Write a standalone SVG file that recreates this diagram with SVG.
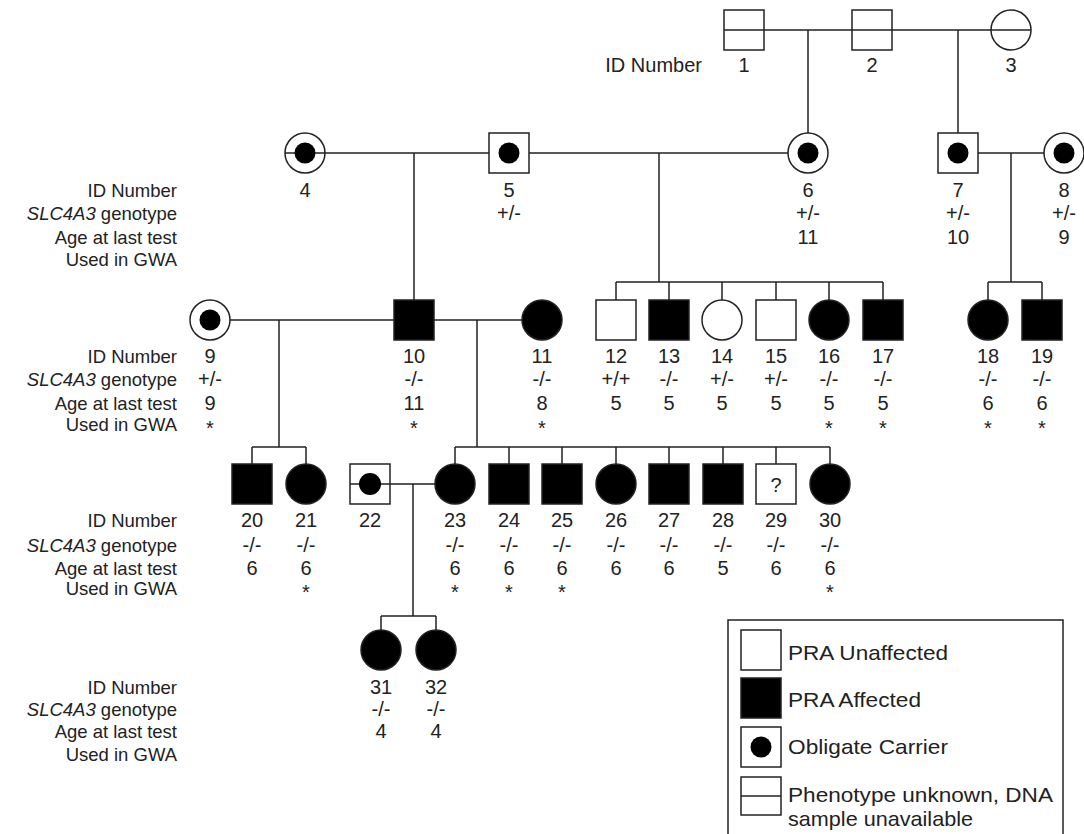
<svg xmlns="http://www.w3.org/2000/svg" width="1084" height="834" viewBox="0 0 1084 834">
<style>
.ln{stroke:#222;stroke-width:1.5;fill:none}
.o{stroke:#222;stroke-width:1.5;fill:#fff}
.on{stroke:#222;stroke-width:1.5;fill:none}
.f{stroke:#222;stroke-width:1.5;fill:#000}
.d{fill:#000}
text{font-family:"Liberation Sans",Arial,sans-serif;font-size:20px;fill:#222}
.n{text-anchor:middle}
.lab{text-anchor:end;font-size:18.5px}
.lg{font-size:21px}
</style>
<rect width="1084" height="834" fill="#fff"/>
<g id="connectors">
<path class="ln" d="M724 30H1031M808 30V133M958 30V133"/>
<path class="ln" d="M285 153H489M414 153V300M529 153H788M659 153V282M978 153H1044M1011 153V282"/>
<path class="ln" d="M616 282H883M616 282V300M669 282V300M722 282V300M776 282V300M829 282V300M883 282V300"/>
<path class="ln" d="M988 282H1042M988 282V300M1042 282V300"/>
<path class="ln" d="M230 320H394M279 320V447M434 320H522M477 320V447"/>
<path class="ln" d="M252 447H306M252 447V464M306 447V464"/>
<path class="ln" d="M455 447H830M455 447V464M509 447V464M562 447V464M616 447V464M669 447V464M723 447V464M776 447V464M830 447V464"/>
<path class="ln" d="M350 484H435M413 484V616M381 616H436M381 616V630M436 616V630"/>
</g>
<g id="rowlabels">
<text x="702" y="72" text-anchor="end">ID Number</text>
<text class="lab" x="177" y="197">ID Number</text>
<text class="lab" x="177" y="220"><tspan font-style="italic">SLC4A3</tspan> genotype</text>
<text class="lab" x="177" y="244">Age at last test</text>
<text class="lab" x="177" y="266">Used in GWA</text>
<text class="lab" x="177" y="363">ID Number</text>
<text class="lab" x="177" y="386"><tspan font-style="italic">SLC4A3</tspan> genotype</text>
<text class="lab" x="177" y="410">Age at last test</text>
<text class="lab" x="177" y="431">Used in GWA</text>
<text class="lab" x="177" y="527">ID Number</text>
<text class="lab" x="177" y="552"><tspan font-style="italic">SLC4A3</tspan> genotype</text>
<text class="lab" x="177" y="575">Age at last test</text>
<text class="lab" x="177" y="595">Used in GWA</text>
<text class="lab" x="177" y="694">ID Number</text>
<text class="lab" x="177" y="716"><tspan font-style="italic">SLC4A3</tspan> genotype</text>
<text class="lab" x="177" y="738">Age at last test</text>
<text class="lab" x="177" y="761">Used in GWA</text>
</g>
<g id="n1"><rect class="on" x="724" y="10" width="40" height="40"/><text class="n" x="744" y="72">1</text></g>
<g id="n2"><rect class="on" x="852" y="10" width="40" height="40"/><text class="n" x="872" y="72">2</text></g>
<g id="n3"><circle class="on" cx="1011" cy="30" r="20"/><text class="n" x="1011" y="72">3</text></g>
<g id="n4"><circle class="on" cx="305" cy="153" r="20"/><circle class="d" cx="305" cy="153" r="10.5"/><text class="n" x="305" y="197">4</text></g>
<g id="n5"><rect class="o" x="489" y="133" width="40" height="40"/><circle class="d" cx="509" cy="153" r="10.5"/><text class="n" x="509" y="197">5</text><text class="n" x="509" y="220">+/-</text></g>
<g id="n6"><circle class="o" cx="808" cy="153" r="20"/><circle class="d" cx="808" cy="153" r="10.5"/><text class="n" x="808" y="197">6</text><text class="n" x="808" y="220">+/-</text><text class="n" x="808" y="244">11</text></g>
<g id="n7"><rect class="o" x="938" y="133" width="40" height="40"/><circle class="d" cx="958" cy="153" r="10.5"/><text class="n" x="958" y="197">7</text><text class="n" x="958" y="220">+/-</text><text class="n" x="958" y="244">10</text></g>
<g id="n8"><circle class="o" cx="1064" cy="153" r="20"/><circle class="d" cx="1064" cy="153" r="10.5"/><text class="n" x="1064" y="197">8</text><text class="n" x="1064" y="220">+/-</text><text class="n" x="1064" y="244">9</text></g>
<g id="n9"><circle class="o" cx="210" cy="320" r="20"/><circle class="d" cx="210" cy="320" r="10.5"/><text class="n" x="210" y="363">9</text><text class="n" x="210" y="386">+/-</text><text class="n" x="210" y="410">9</text><text class="n" x="210" y="435">*</text></g>
<g id="n10"><rect class="f" x="394" y="300" width="40" height="40"/><text class="n" x="414" y="363">10</text><text class="n" x="414" y="386">-/-</text><text class="n" x="414" y="410">11</text><text class="n" x="414" y="435">*</text></g>
<g id="n11"><circle class="f" cx="542" cy="320" r="20"/><text class="n" x="542" y="363">11</text><text class="n" x="542" y="386">-/-</text><text class="n" x="542" y="410">8</text><text class="n" x="542" y="435">*</text></g>
<g id="n12"><rect class="o" x="596" y="300" width="40" height="40"/><text class="n" x="616" y="363">12</text><text class="n" x="616" y="386">+/+</text><text class="n" x="616" y="410">5</text></g>
<g id="n13"><rect class="f" x="649" y="300" width="40" height="40"/><text class="n" x="669" y="363">13</text><text class="n" x="669" y="386">-/-</text><text class="n" x="669" y="410">5</text></g>
<g id="n14"><circle class="o" cx="722" cy="320" r="20"/><text class="n" x="722" y="363">14</text><text class="n" x="722" y="386">+/-</text><text class="n" x="722" y="410">5</text></g>
<g id="n15"><rect class="o" x="756" y="300" width="40" height="40"/><text class="n" x="776" y="363">15</text><text class="n" x="776" y="386">+/-</text><text class="n" x="776" y="410">5</text></g>
<g id="n16"><circle class="f" cx="829" cy="320" r="20"/><text class="n" x="829" y="363">16</text><text class="n" x="829" y="386">-/-</text><text class="n" x="829" y="410">5</text><text class="n" x="829" y="435">*</text></g>
<g id="n17"><rect class="f" x="863" y="300" width="40" height="40"/><text class="n" x="883" y="363">17</text><text class="n" x="883" y="386">-/-</text><text class="n" x="883" y="410">5</text><text class="n" x="883" y="435">*</text></g>
<g id="n18"><circle class="f" cx="988" cy="320" r="20"/><text class="n" x="988" y="363">18</text><text class="n" x="988" y="386">-/-</text><text class="n" x="988" y="410">6</text><text class="n" x="988" y="435">*</text></g>
<g id="n19"><rect class="f" x="1022" y="300" width="40" height="40"/><text class="n" x="1042" y="363">19</text><text class="n" x="1042" y="386">-/-</text><text class="n" x="1042" y="410">6</text><text class="n" x="1042" y="435">*</text></g>
<g id="n20"><rect class="f" x="232" y="464" width="40" height="40"/><text class="n" x="252" y="527">20</text><text class="n" x="252" y="552">-/-</text><text class="n" x="252" y="575">6</text></g>
<g id="n21"><circle class="f" cx="306" cy="484" r="20"/><text class="n" x="306" y="527">21</text><text class="n" x="306" y="552">-/-</text><text class="n" x="306" y="575">6</text><text class="n" x="306" y="599">*</text></g>
<g id="n22"><rect class="on" x="350" y="464" width="40" height="40"/><circle class="d" cx="370" cy="484" r="11"/><text class="n" x="370" y="527">22</text></g>
<g id="n23"><circle class="f" cx="455" cy="484" r="20"/><text class="n" x="455" y="527">23</text><text class="n" x="455" y="552">-/-</text><text class="n" x="455" y="575">6</text><text class="n" x="455" y="599">*</text></g>
<g id="n24"><rect class="f" x="489" y="464" width="40" height="40"/><text class="n" x="509" y="527">24</text><text class="n" x="509" y="552">-/-</text><text class="n" x="509" y="575">6</text><text class="n" x="509" y="599">*</text></g>
<g id="n25"><rect class="f" x="542" y="464" width="40" height="40"/><text class="n" x="562" y="527">25</text><text class="n" x="562" y="552">-/-</text><text class="n" x="562" y="575">6</text><text class="n" x="562" y="599">*</text></g>
<g id="n26"><circle class="f" cx="616" cy="484" r="20"/><text class="n" x="616" y="527">26</text><text class="n" x="616" y="552">-/-</text><text class="n" x="616" y="575">6</text></g>
<g id="n27"><rect class="f" x="649" y="464" width="40" height="40"/><text class="n" x="669" y="527">27</text><text class="n" x="669" y="552">-/-</text><text class="n" x="669" y="575">6</text></g>
<g id="n28"><rect class="f" x="703" y="464" width="40" height="40"/><text class="n" x="723" y="527">28</text><text class="n" x="723" y="552">-/-</text><text class="n" x="723" y="575">5</text></g>
<g id="n29"><rect class="o" x="756" y="464" width="40" height="40"/><text class="n" x="776" y="492" font-size="22">?</text><text class="n" x="776" y="527">29</text><text class="n" x="776" y="552">-/-</text><text class="n" x="776" y="575">6</text></g>
<g id="n30"><circle class="f" cx="830" cy="484" r="20"/><text class="n" x="830" y="527">30</text><text class="n" x="830" y="552">-/-</text><text class="n" x="830" y="575">6</text><text class="n" x="830" y="599">*</text></g>
<g id="n31"><circle class="f" cx="381" cy="650" r="20"/><text class="n" x="381" y="694">31</text><text class="n" x="381" y="716">-/-</text><text class="n" x="381" y="738">4</text></g>
<g id="n32"><circle class="f" cx="436" cy="650" r="20"/><text class="n" x="436" y="694">32</text><text class="n" x="436" y="716">-/-</text><text class="n" x="436" y="738">4</text></g>
<g id="legend">
<rect class="o" x="728" y="620" width="335" height="230"/>
<rect class="o" x="741" y="630" width="40" height="40"/>
<text class="lg" x="788" y="660" textLength="160" lengthAdjust="spacingAndGlyphs">PRA Unaffected</text>
<rect class="f" x="741" y="678" width="40" height="40"/>
<text class="lg" x="788" y="707" textLength="133" lengthAdjust="spacingAndGlyphs">PRA Affected</text>
<rect class="o" x="741" y="727" width="40" height="40"/>
<circle class="d" cx="761" cy="747" r="10.5"/>
<text class="lg" x="788" y="754" textLength="160" lengthAdjust="spacingAndGlyphs">Obligate Carrier</text>
<rect class="o" x="741" y="777" width="40" height="38"/>
<path class="ln" d="M741 796H781"/>
<text class="lg" x="788" y="802" textLength="265" lengthAdjust="spacingAndGlyphs">Phenotype unknown, DNA</text>
<text class="lg" x="788" y="826" textLength="185" lengthAdjust="spacingAndGlyphs">sample unavailable</text>
</g>
</svg>
